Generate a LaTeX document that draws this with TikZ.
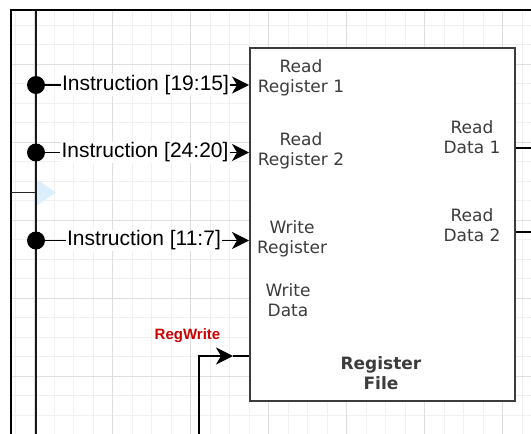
\documentclass[tikz,border=0pt]{standalone}
\usepackage{fontspec}
\newfontfamily\arialf{Liberation Sans}
\newfontfamily\dejavu{DejaVu Sans}
\usetikzlibrary{arrows.meta}
\definecolor{gridminor}{RGB}{240,240,240}
\definecolor{gridmajor}{RGB}{222,222,222}
\definecolor{boxgray}{RGB}{60,60,60}
\definecolor{txtgray}{RGB}{60,60,60}
\definecolor{rwred}{RGB}{204,0,0}
\definecolor{hoverblue}{RGB}{218,238,252}
\begin{document}
\begin{tikzpicture}[x=1pt,y=-1pt,
  minorgrid/.style={draw=gridminor, line width=0.8pt},
  majorgrid/.style={draw=gridmajor, line width=1pt},
  wire/.style={line width=1.5pt, draw=black},
  sig/.style={wire, -{Stealth[length=17pt,width=17pt,inset=5pt]}},
  instr/.style={font=\arialf\fontsize{21}{25}\selectfont, fill=white, inner sep=1pt, text=black},
  port/.style={font=\dejavu\fontsize{17}{20}\selectfont, text=txtgray, align=center, inner sep=0pt},
  dotnode/.style={circle, fill=black, minimum size=18pt, inner sep=0pt},
  regbox/.style={draw=boxgray, line width=1.6pt, fill=white, minimum width=265pt, minimum height=353pt, inner sep=0pt, anchor=north west}
]
\useasboundingbox (0,0) rectangle (531,434);
% grid
\begin{scope}
\clip (11,10) rectangle (531,434);
\foreach \k in {0,...,26} \draw[minorgrid] ({15+19.5*\k},10) -- ({15+19.5*\k},434);
\foreach \k in {0,...,21} \draw[minorgrid] (11,{25.3+19.5*\k}) -- (531,{25.3+19.5*\k});
\foreach \k in {0,...,6} \draw[majorgrid] ({34.5+78*\k},10) -- ({34.5+78*\k},434);
\foreach \k in {0,...,4} \draw[majorgrid] (11,{64.3+78*\k}) -- (531,{64.3+78*\k});
\end{scope}
% frame
\coordinate (fbl) at (11,434);
\coordinate (ftl) at (11,10);
\coordinate (ftr) at (531,10);
\draw[line width=2pt] (fbl) -- (ftl) -- (ftr);
% hover triangle and short line
\coordinate (bl1) at (11,192.5);
\coordinate (bl2) at (36,192.5);
\fill[hoverblue] (36,179) -- (56,192.5) -- (36,206) -- cycle;
\draw[line width=1.5pt, draw=black!85] (bl1) -- (bl2);
% bus
\coordinate (bustop) at (36,10);
\coordinate (busbot) at (36,434);
\draw[line width=1.7pt, draw=black!90] (bustop) -- (busbot);
% register file
\node[regbox] (rf) at (249,47) {};
\node[port] (rr1) at (301,78) {Read\\Register 1};
\node[port] (rr2) at (301,151) {Read\\Register 2};
\node[port] (wr) at (292,239) {Write\\Register};
\node[port] (wd) at (288,300) {Write\\Data};
\node[port] (rd1) at (472,137.5) {Read\\Data 1};
\node[port] (rd2) at (472,225) {Read\\Data 2};
\node[port, font=\dejavu\bfseries\fontsize{17}{20}\selectfont] (rfname) at (381,373) {Register\\File};
% instruction inputs
\node[dotnode] (d1) at (36,85) {};
\node[dotnode] (d2) at (36,152.5) {};
\node[dotnode] (d3) at (36,240.5) {};
\node[instr] (i1) at (145.5,85) {Instruction [19:15]};
\node[instr] (i2) at (145,152.5) {Instruction [24:20]};
\node[instr] (i3) at (144,240.5) {Instruction [11:7]};
\draw[wire] (d1) -- (i1);
\draw[wire] (d2) -- (i2);
\draw[wire] (d3) -- (i3);
\draw[sig] (i1) -- (rf.west |- i1);
\draw[sig] (i2) -- (rf.west |- i2);
\draw[sig] (i3) -- (rf.west |- i3);
% outputs
\coordinate (o1) at (531,148);
\coordinate (o2) at (531,232);
\draw[wire] (rf.east |- o1) -- (o1);
\draw[wire] (rf.east |- o2) -- (o2);
% RegWrite
\node[font=\arialf\bfseries\fontsize{15}{18}\selectfont, text=rwred, inner sep=0pt] (rwlab) at (187.5,336) {RegWrite};
\coordinate (rwstart) at (199,434);
\coordinate (rwtip) at (233,356);
\draw[sig] (rwstart) |- (rwtip);
\draw[wire] (rwtip) -- (rf.west |- rwtip);
\end{tikzpicture}
\end{document}
